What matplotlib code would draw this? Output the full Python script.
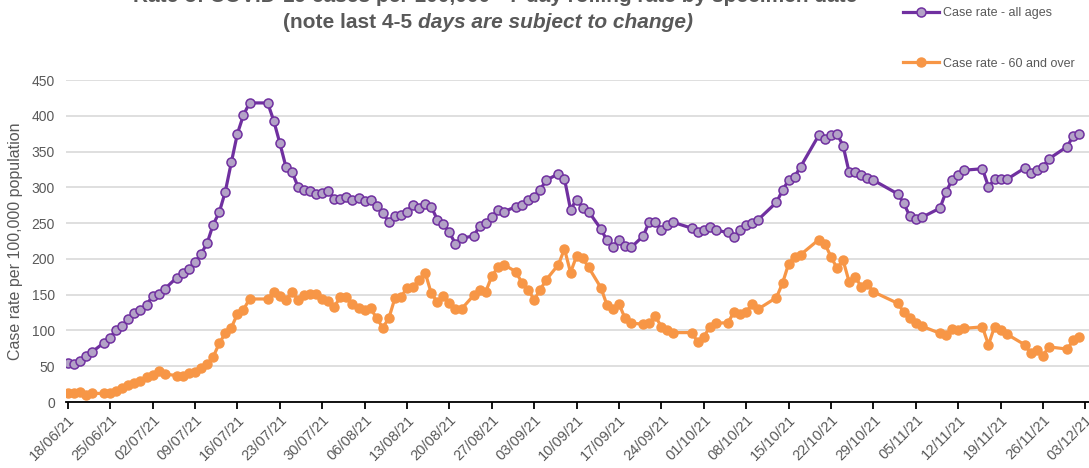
import matplotlib
matplotlib.use("Agg")
import matplotlib.pyplot as plt
import matplotlib.dates as mdates
import matplotlib.ticker as mticker
import numpy as np
import pandas as pd

# -----------------------------------------------------------------------------
# Data

START_DATE = "2021-06-18"

day_offsets = [
    0, 1, 2, 3, 4, 6, 7, 8, 9, 10, 11, 12, 13, 14, 15, 16, 18, 19, 20, 21,
    22, 23, 24, 25, 26, 27, 28, 29, 30, 33, 34, 35, 36, 37, 38, 39, 40, 41,
    42, 43, 44, 45, 46, 47, 48, 49, 50, 51, 52, 53, 54, 55, 56, 57, 58, 59,
    60, 61, 62, 63, 64, 65, 67, 68, 69, 70, 71, 72, 74, 75, 76, 77, 78, 79,
    81, 82, 83, 84, 85, 86, 88, 89, 90, 91, 92, 93, 95, 96, 97, 98, 99, 100,
    103, 104, 105, 106, 107, 109, 110, 111, 112, 113, 114, 117, 118, 119,
    120, 121, 124, 125, 126, 127, 128, 129, 130, 131, 132, 133, 137, 138,
    139, 140, 141, 144, 145, 146, 147, 148, 151, 152, 153, 154, 155, 158,
    159, 160, 161, 162, 165, 166, 167,
]

rate_all_ages = [
    54, 53, 58, 65, 70, 83, 90, 101, 106, 116, 124, 129, 136, 148, 151, 158, 174, 181, 186, 195,
    207, 222, 248, 265, 294, 335, 375, 401, 418, 418, 393, 362, 329, 322, 301, 297, 295, 291,
    292, 295, 284, 284, 286, 282, 285, 281, 283, 274, 264, 252, 260, 261, 266, 276, 271, 277,
    273, 255, 249, 237, 221, 229, 232, 246, 250, 259, 268, 266, 273, 276, 283, 287, 297, 310,
    319, 312, 269, 283, 271, 266, 242, 226, 217, 227, 218, 216, 232, 252, 252, 241, 248, 251,
    243, 237, 240, 244, 240, 237, 230, 240, 248, 250, 255, 279, 296, 310,
    315, 329, 373, 367, 373, 375, 358, 321, 322, 317, 313, 310, 291, 278,
    260, 256, 258, 271, 294, 310, 317, 324, 326, 301, 311, 311, 311, 327,
    320, 324, 329, 340, 357, 372, 375,
]

rate_60_plus = [
    12, 13, 14, 10, 12, 12, 13, 15, 19, 24, 26, 30, 35, 38, 43, 39, 37, 37, 41, 42,
    47, 53, 63, 82, 96, 104, 123, 129, 144, 144, 154, 148, 143, 154, 143, 150, 151, 151,
    144, 141, 133, 147, 147, 137, 132, 129, 131, 117, 104, 117, 145, 147, 159, 161, 170, 181,
    152, 140, 148, 138, 130, 130, 149, 156, 154, 176, 188, 192, 182, 166, 157, 143, 157, 171,
    192, 214, 181, 204, 201, 188, 160, 136, 130, 137, 117, 110, 109, 110, 120, 105, 101, 97,
    97, 84, 91, 105, 110, 111, 126, 123, 126, 137, 130, 146, 166, 193,
    203, 206, 227, 221, 203, 187, 198, 168, 175, 161, 165, 154, 138, 126,
    117, 110, 106, 96, 94, 102, 101, 103, 105, 80, 105, 101, 95, 80,
    68, 72, 65, 77, 74, 86, 91,
]

series_labels = ["Case rate - all ages", "Case rate - 60 and over"]

title_line1 = "Rate of COVID-19 cases per 100,000 - 7 day rolling rate by specimen date"
title_upright = "(note last 4-5 "
title_italic = "days are subject to change)"

# -----------------------------------------------------------------------------
# Style

PURPLE = "#7030a0"
PURPLE_FACE = "#b3a2c7"
ORANGE = "#f79646"
TEXT_GREY = "#595959"
GRID_GREY = "#d9d9d9"
FONT = ["Liberation Sans Narrow", "Liberation Sans", "DejaVu Sans"]

plt.rcParams["font.family"] = FONT

start = pd.to_datetime(START_DATE)
dates = start + pd.to_timedelta(day_offsets, unit="D")
week_ticks = pd.date_range(start, periods=25, freq="7D")

fig = plt.figure(figsize=(10.89, 4.68), dpi=100)
ax = fig.add_axes([0.0606, 0.141, 0.9394, 0.688])

ax.plot(dates, rate_all_ages, color=PURPLE, linewidth=2.3,
        marker="o", markersize=6.5, markerfacecolor=PURPLE_FACE,
        markeredgecolor=PURPLE, markeredgewidth=1.1,
        label=series_labels[0], zorder=3)
ax.plot(dates, rate_60_plus, color=ORANGE, linewidth=2.3,
        marker="o", markersize=6.5, markerfacecolor=ORANGE,
        markeredgecolor=ORANGE, label=series_labels[1], zorder=3)

# Axes
ax.set_ylim(0, 450)
ax.set_yticks(np.arange(0, 451, 50))
ax.set_xlim(start - pd.Timedelta(days=0.3), start + pd.Timedelta(days=168.6))
ax.xaxis.set_major_locator(mticker.FixedLocator(mdates.date2num(week_ticks)))
ax.xaxis.set_major_formatter(mdates.DateFormatter("%d/%m/%y"))

ax.grid(axis="y", color=GRID_GREY, linewidth=1.2, zorder=0)
ax.set_axisbelow(True)
ax.spines[["top", "right", "left"]].set_visible(False)
ax.spines["bottom"].set_color("black")
ax.spines["bottom"].set_linewidth(1.3)
ax.tick_params(axis="y", length=0, labelsize=10, labelcolor=TEXT_GREY, pad=8)
ax.tick_params(axis="x", direction="out", length=5, width=1.3, color="black",
               labelsize=10.5, labelcolor=TEXT_GREY, pad=3)
for lbl in ax.get_xticklabels():
    lbl.set_rotation(45)
    lbl.set_ha("right")
    lbl.set_rotation_mode("anchor")

ax.set_ylabel("Case rate per 100,000 population", fontsize=11.5,
              color=TEXT_GREY, labelpad=6)

# Legend (top right, entries widely spaced like the Excel original)
ax.legend(loc="upper left", bbox_to_anchor=(0.807, 1.262), frameon=False,
          fontsize=9, labelcolor=TEXT_GREY, labelspacing=3.1,
          handlelength=2.9, handletextpad=0.3)

# Title: first line runs off the top edge, as in the reference
fig.text(0.455, 1 - 2 / 468, title_line1, fontsize=15, fontweight="bold",
         color=TEXT_GREY, ha="center", va="baseline")

# Second line: upright part then italic part
title_y = 1 - 22 / 468
t1 = fig.text(0.26, title_y, title_upright, fontsize=15, fontweight="bold",
              color=TEXT_GREY, ha="left", va="center")
fig.canvas.draw()
bb = t1.get_window_extent()
x2 = fig.transFigure.inverted().transform((bb.x1, bb.y0))[0]
fig.text(x2, title_y, title_italic, fontsize=15,
         fontweight="bold", fontstyle="italic", color=TEXT_GREY,
         ha="left", va="center")

fig.savefig("out.png", dpi=100)
